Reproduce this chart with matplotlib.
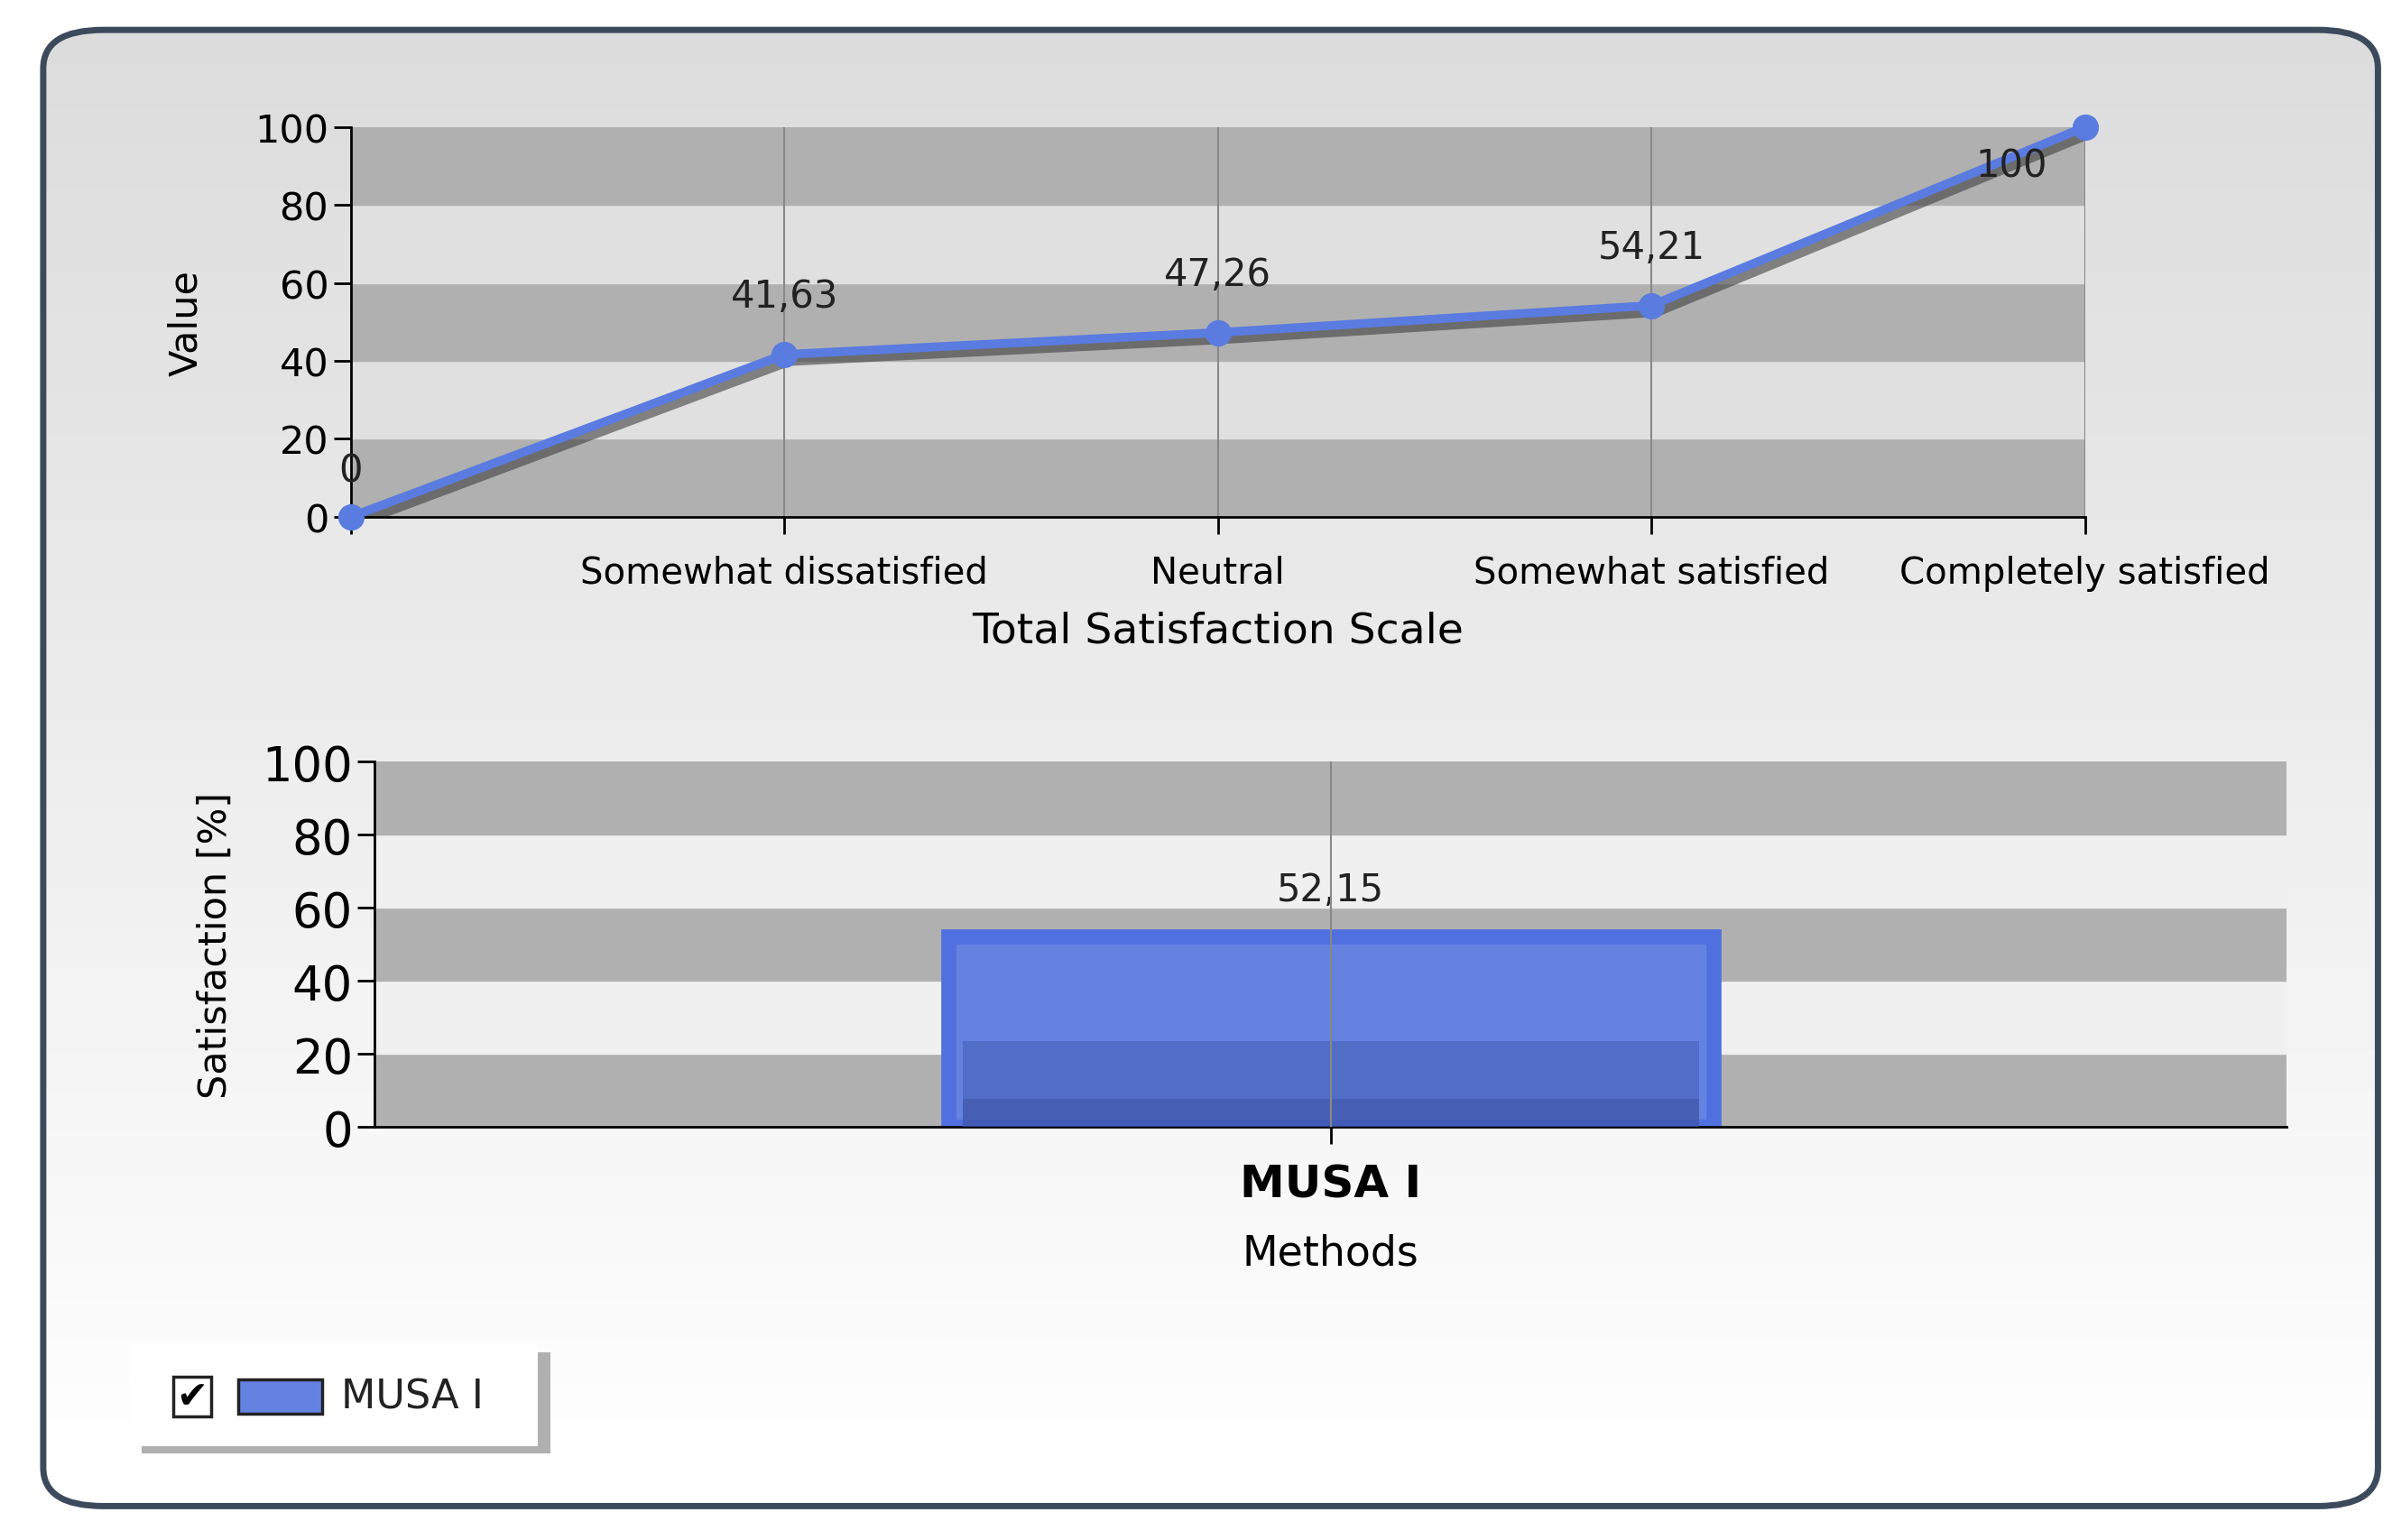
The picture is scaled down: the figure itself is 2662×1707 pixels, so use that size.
import numpy as np
import matplotlib.pyplot as plt
from matplotlib.patches import FancyBboxPatch, Rectangle

scale_labels = ["", "Somewhat dissatisfied", "Neutral", "Somewhat satisfied", "Completely satisfied"]
scale_values = [0, 41.63, 47.26, 54.21, 100]
value_text = ["0", "41,63", "47,26", "54,21", "100"]
methods = ["MUSA I"]
satisfaction = [52.15]
sat_text = ["52,15"]

fig = plt.figure(figsize=(26.62, 17.08), dpi=100)

# background gradient panel, darker at the top
bg = fig.add_axes([0, 0, 1, 1], zorder=-10)
bg.set_xlim(0, 1); bg.set_ylim(0, 1); bg.axis("off")
grad = np.linspace(0.86, 1.0, 256).reshape(-1, 1)
panel = FancyBboxPatch((0.018, 0.022), 0.972, 0.958, boxstyle="round,pad=0,rounding_size=0.025",
                       fc="none", ec="#3c4a5c", lw=5, transform=bg.transAxes)
im = bg.imshow(grad, cmap="gray", vmin=0, vmax=1, extent=[0.018, 0.99, 0.022, 0.98], aspect="auto")
im.set_clip_path(panel)
bg.add_patch(panel)

def bands(ax, dark, light):
    for i, lo in enumerate(range(0, 100, 20)):
        ax.axhspan(lo, lo + 20, color=dark if i % 2 == 0 else light, zorder=0)

# top line chart
ax1 = fig.add_axes([0.146, 0.664, 0.722, 0.253])
x = np.arange(len(scale_values))
bands(ax1, "#b0b0b0", "#e0e0e0")
ax1.plot(x + 0.01, np.array(scale_values) - 1, color="#404040", lw=12, alpha=0.6, zorder=2)
ax1.plot(x, scale_values, color="#5a7be0", lw=7, marker="o", ms=20, zorder=3, clip_on=False)
for xi, v, t in zip(x, scale_values, value_text):
    if xi == 4:
        ax1.text(xi - 0.17, v - 10, t, ha="center", va="center", fontsize=30, color="#222")
    elif xi == 0:
        ax1.text(xi, v + 12, t, ha="center", va="center", fontsize=30, color="#222")
    else:
        ax1.text(xi, v + 15, t, ha="center", va="center", fontsize=30, color="#222")
ax1.set_xlim(0, 4); ax1.set_ylim(0, 100)
ax1.set_xticks(x); ax1.set_xticklabels(scale_labels, fontsize=29)
ax1.set_yticks(range(0, 101, 20)); ax1.tick_params(axis="y", labelsize=31, length=14, width=2)
ax1.tick_params(axis="x", length=14, width=2, pad=16)
ax1.grid(axis="x", color="#888", lw=1.5)
for s in ["top", "right"]:
    ax1.spines[s].set_visible(False)
for s in ["left", "bottom"]:
    ax1.spines[s].set_linewidth(2)
ax1.set_xlabel("Total Satisfaction Scale", fontsize=34, labelpad=16)
ax1.set_ylabel("Value", fontsize=31, labelpad=40)
ax1.set_facecolor("none")

# bottom bar chart
ax2 = fig.add_axes([0.156, 0.268, 0.796, 0.237])
bands(ax2, "#b0b0b0", "#f0f0f0")
xb = np.arange(len(methods))
ax2.bar(xb, satisfaction, width=0.8, color="#6482e0", edgecolor="#5070e0", lw=12, zorder=2)
ax2.bar(xb, [s * 0.45 for s in satisfaction], width=0.77, color="#3d55a8", alpha=0.45, zorder=3)
ax2.bar(xb, [s * 0.15 for s in satisfaction], width=0.77, color="#3d55a8", alpha=0.5, zorder=3)
ax2.axvline(0, color="#888", lw=1.5, zorder=4)
for xi, v, t in zip(xb, satisfaction, sat_text):
    ax2.text(xi, v + 13, t, ha="center", va="center", fontsize=30, color="#222")
ax2.set_xlim(-1, 1); ax2.set_ylim(0, 100)
ax2.set_xticks(xb); ax2.set_xticklabels(methods, fontsize=36, fontweight="bold")
ax2.set_yticks(range(0, 101, 20)); ax2.tick_params(axis="y", labelsize=38, length=14, width=2)
ax2.tick_params(axis="x", length=14, width=2, pad=14)
for s in ["top", "right"]:
    ax2.spines[s].set_visible(False)
for s in ["left", "bottom"]:
    ax2.spines[s].set_linewidth(2)
ax2.set_xlabel("Methods", fontsize=33, labelpad=22)
ax2.set_ylabel("Satisfaction [%]", fontsize=31, labelpad=22)
ax2.set_facecolor("none")

# legend box
bg.add_patch(Rectangle((0.059, 0.056), 0.17, 0.066, fc="#b0b0b0", ec="none"))
bg.add_patch(Rectangle((0.054, 0.061), 0.17, 0.066, fc="white", ec="none"))
bg.add_patch(Rectangle((0.072, 0.080), 0.016, 0.026, fc="white", ec="#222", lw=2.5))
bg.text(0.080, 0.093, "\u2714", ha="center", va="center", fontsize=30)
bg.add_patch(Rectangle((0.099, 0.082), 0.035, 0.022, fc="#6482e0", ec="#222", lw=2.5))
bg.text(0.142, 0.093, "MUSA I", ha="left", va="center", fontsize=32, color="#222")

fig.savefig("out.png", dpi=100)
